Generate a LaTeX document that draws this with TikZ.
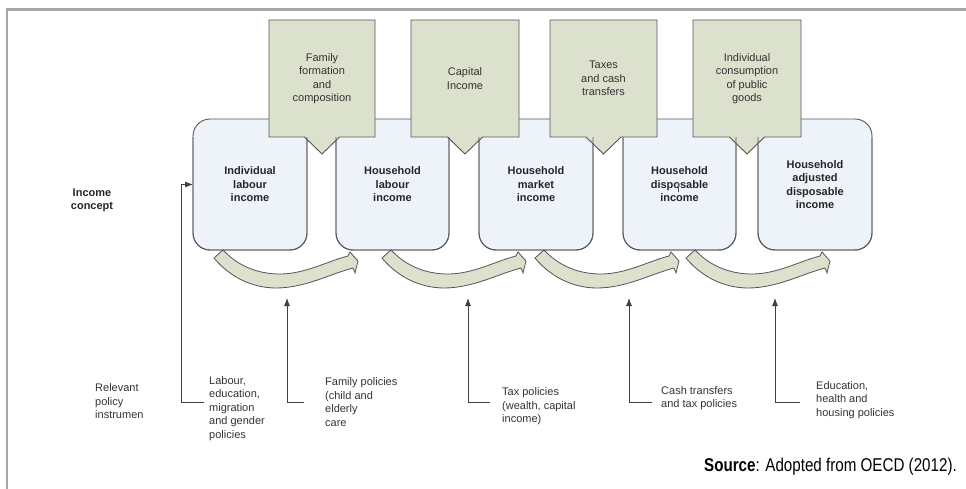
\documentclass[tikz,border=0pt]{standalone}
\usepackage{fontspec}
\usepackage{graphicx}
\setmainfont{Liberation Sans}
\usetikzlibrary{arrows.meta}
\definecolor{boxfill}{HTML}{EEF3F9}
\definecolor{grn}{HTML}{DCE1CD}
\definecolor{edge}{HTML}{555555}
\definecolor{txt}{HTML}{333333}
\definecolor{framec}{HTML}{A6A6A6}
\newcommand\calloutshape[2]{%
  \filldraw[callshape] ({#1-#2},20) -- ({#1+#2},20) -- ({#1+#2},137) -- ({#1+17.5},137) -- (#1,154) -- ({#1-17.5},137) -- ({#1-#2},137) -- cycle;}
\newcommand\swooshshape[1]{%
  \begin{scope}[xshift=#1]
  \filldraw[swoosh] (223,250) .. controls (236,264) and (255,274) .. (280,274) .. controls (305,274) and (328,261) .. (348,256) -- (350,252) -- (358,261) -- (355,273) -- (353,268) .. controls (330,274) and (305,288) .. (276,288) .. controls (250,288) and (228,275) .. (214,258) -- cycle;
  \end{scope}}
\begin{document}
\begin{tikzpicture}[x=1pt,y=-1pt,
  incbox/.style={draw=edge, line width=0.9pt, fill=boxfill, rounded corners=17pt, minimum width=114pt, minimum height=131pt, inner sep=0pt, outer sep=0pt, align=center, font=\fontsize{11}{13.5}\selectfont\bfseries, text=black!85},
  calltext/.style={align=center, font=\fontsize{11}{13.5}\selectfont, text=txt, inner sep=0pt},
  callshape/.style={draw=edge, line width=0.9pt, fill=grn, line join=miter},
  swoosh/.style={draw=edge, line width=0.8pt, fill=grn, line join=miter},
  pol/.style={align=left, font=\fontsize{11}{13.5}\selectfont, text=txt, inner sep=0pt, anchor=west},
  conn/.style={draw=black!75, line width=0.8pt, -{Latex[length=8pt,width=6pt]}},
]
\useasboundingbox (0,0) rectangle (966,489);
\draw[framec, line width=2.5pt] (7,489) -- (7,9.5) -- (966,9.5);

% income concept boxes
\node[incbox] (b1) at (250,184.5) {Individual\\labour\\income};
\node[incbox, minimum width=113pt] (b2) at (392.5,184.5) {Household\\labour\\income};
\node[incbox] (b3) at (536,184.5) {Household\\market\\income};
\node[incbox, minimum width=113pt] (b4) at (679.5,184.5) {Household\\disposable\\income};
\node[incbox] (b5) at (815,184.5) {Household\\adjusted\\disposable\\income};
\draw[edge, line width=0.6pt] (678,183) -- (678,192);

% callouts
\calloutshape{322}{53}
\calloutshape{465}{54}
\calloutshape{603.5}{53.5}
\calloutshape{747}{54}
\begin{scope}
  \clip (0,137.6) rectangle (966,489);
  \foreach \b in {b1,b2,b3,b4,b5}
    \draw[edge, line width=0.9pt, rounded corners=17pt] (\b.north west) rectangle (\b.south east);
\end{scope}
\node[calltext] (c1) at (322,78.5) {Family\\formation\\and\\composition};
\node[calltext] (c2) at (465,78.5) {Capital\\Income};
\node[calltext] (c3) at (603.5,78.5) {Taxes\\and cash\\transfers};
\node[calltext] (c4) at (747,78.5) {Individual\\consumption\\of public\\goods};

% curved block arrows
\swooshshape{0pt}
\swooshshape{168pt}
\swooshshape{321pt}
\swooshshape{472pt}

% labels
\node[font=\fontsize{11}{13.5}\selectfont\bfseries, align=center, text=black!85, inner sep=0pt] (ic) at (92,200.5) {Income\\concept};
\node[pol] (rel) at (95,401.5) {Relevant\\policy\\instrumen};
\node[pol] (lab) at (209,408.5) {Labour,\\education,\\migration\\and gender\\policies};
\node[pol] (fam) at (325,402) {Family policies\\(child and\\elderly\\care};
\node[pol] (tax) at (502,406.5) {Tax policies\\(wealth, capital\\income)};
\node[pol] (cash) at (661,398) {Cash transfers\\and tax policies};
\node[pol] (edu) at (816,400) {Education,\\health and\\housing policies};

% policy connectors
\coordinate (f0) at (204,402); \coordinate (k0) at (181,184.5);
\coordinate (f1) at (304,402); \coordinate (t1) at (287,298);
\coordinate (f2) at (490,402); \coordinate (t2) at (468,298);
\coordinate (f3) at (652,402); \coordinate (t3) at (629,298);
\coordinate (f4) at (800,402); \coordinate (t4) at (775,298);
\draw[conn] (f0) -| (k0) -- (b1.west);
\draw[conn] (f1) -| (t1);
\draw[conn] (f2) -| (t2);
\draw[conn] (f3) -| (t3);
\draw[conn] (f4) -| (t4);

\node[anchor=east, inner sep=0pt] (src) at (957,467) {\scalebox{0.82}[1]{\fontsize{18.5}{20}\selectfont\textbf{Source}: Adopted from OECD (2012).}};
\end{tikzpicture}
\end{document}
